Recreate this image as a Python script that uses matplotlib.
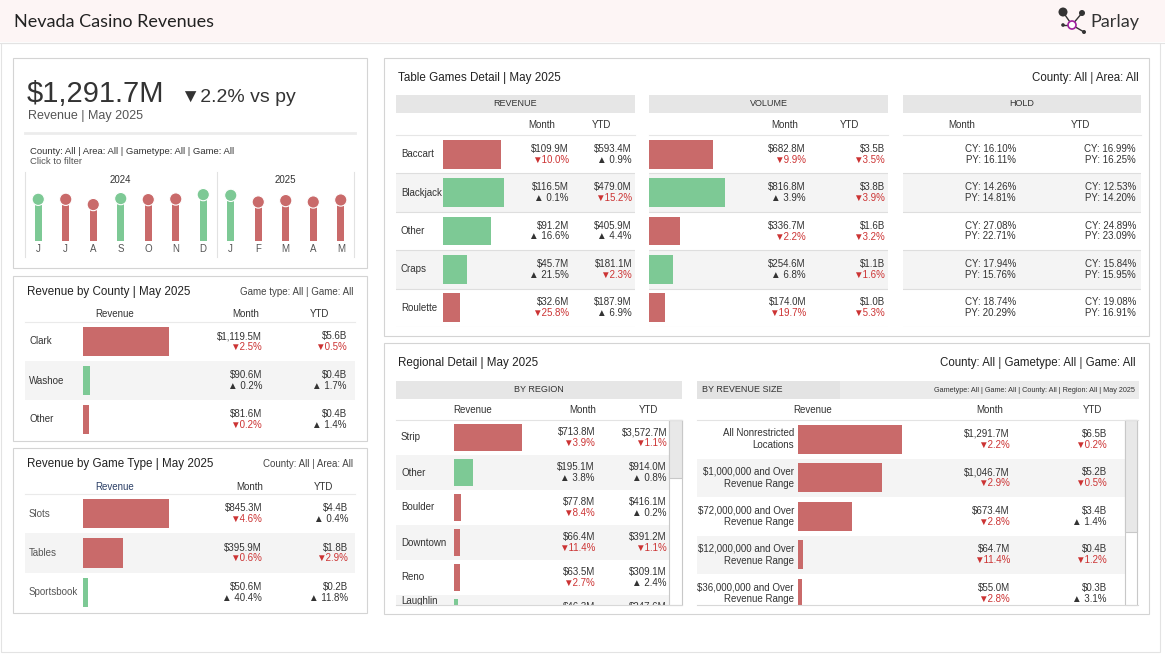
import matplotlib
matplotlib.use('Agg')
import matplotlib.pyplot as plt
import matplotlib.transforms as mtransforms
from matplotlib.patches import Rectangle, Circle

plt.rcParams['font.family'] = ['Liberation Sans', 'DejaVu Sans']
plt.rcParams['text.parse_math'] = False

RED = '#c96a6a'
GREEN = '#7dc995'
NEG = '#cc3333'
INK = '#333333'
GREY_TXT = '#555555'
STRIPE = '#f4f4f4'
RULE = '#dedede'

# ---- data ----
trend_months = ['J', 'J', 'A', 'S', 'O', 'N', 'D', 'J', 'F', 'M', 'A', 'M']
trend_revenue = [1314, 1314, 1148, 1336, 1304, 1323, 1461, 1439, 1229, 1273, 1229, 1291.7]
trend_up = [True, False, False, True, False, False, True, True, False, False, False, False]
trend_years = ['2024', '2025']

county_names = ['Clark', 'Washoe', 'Other']
county_month = [1119.5, 90.6, 81.6]
county_month_chg = [-2.5, 0.2, -0.2]
county_ytd = [5.6, 0.4, 0.4]
county_ytd_chg = [-0.5, 1.7, 1.4]

gametype_names = ['Slots', 'Tables', 'Sportsbook']
gametype_month = [845.3, 395.9, 50.6]
gametype_month_chg = [-4.6, -0.6, 40.4]
gametype_ytd = [4.4, 1.8, 0.2]
gametype_ytd_chg = [0.4, -2.9, 11.8]

games = ['Baccart', 'Blackjack', 'Other', 'Craps', 'Roulette']
game_rev_month = [109.9, 116.5, 91.2, 45.7, 32.6]
game_rev_month_chg = [-10.0, 0.1, 16.6, 21.5, -25.8]
game_rev_ytd = [593.4, 479.0, 405.9, 181.1, 187.9]
game_rev_ytd_chg = [0.9, -15.2, 4.4, -2.3, 6.9]
game_vol_month = [682.8, 816.8, 336.7, 254.6, 174.0]
game_vol_month_chg = [-9.9, 3.9, -2.2, 6.8, -19.7]
game_vol_ytd = [3.5, 3.8, 1.6, 1.1, 1.0]
game_vol_ytd_chg = [-3.5, -3.9, -3.2, -1.6, -5.3]
hold_month_cy = [16.10, 14.26, 27.08, 17.94, 18.74]
hold_month_py = [16.11, 14.81, 22.71, 15.76, 20.29]
hold_ytd_cy = [16.99, 12.53, 24.89, 15.84, 19.08]
hold_ytd_py = [16.25, 14.20, 23.09, 15.95, 16.91]

regions = ['Strip', 'Other', 'Boulder', 'Downtown', 'Reno', 'Laughlin']
region_month = [713.8, 195.1, 77.8, 66.4, 63.5, 46.3]
region_month_chg = [-3.9, 3.8, -8.4, -11.4, -2.7, 1.5]
region_ytd = [3572.7, 914.0, 416.1, 391.2, 309.1, 247.6]
region_ytd_chg = [-1.1, 0.8, 0.2, -1.1, 2.4, 1.0]

size_names = ['All Nonrestricted\nLocations',
              '$1,000,000 and Over\nRevenue Range',
              '$72,000,000 and Over\nRevenue Range',
              '$12,000,000 and Over\nRevenue Range',
              '$36,000,000 and Over\nRevenue Range']
size_month = [1291.7, 1046.7, 673.4, 64.7, 55.0]
size_month_chg = [-2.2, -2.9, -2.8, -11.4, -2.8]
size_ytd = [6.5, 5.2, 3.4, 0.4, 0.3]
size_ytd_chg = [-0.2, -0.5, 1.4, -1.2, 3.1]

# ---- canvas in pixel units ----
W, H = 1165, 656
fig = plt.figure(figsize=(W / 100, H / 100), dpi=100)
fig.patch.set_facecolor('white')


def px_axes(x0, y0, x1, y1, zorder=1):
    ax = fig.add_axes([x0 / W, 1 - y1 / H, (x1 - x0) / W, (y1 - y0) / H], zorder=zorder)
    ax.axis('off')
    return ax


canvas = px_axes(0, 0, W, H, zorder=0)
canvas.set_xlim(0, W)
canvas.set_ylim(H, 0)
top = px_axes(0, 0, W, H, zorder=5)
top.set_xlim(0, W)
top.set_ylim(H, 0)


def money_m(v):
    return f'${v:,.1f}M'


def money_b(v):
    return f'${v:.1f}B'


def chg_text(v):
    if v < 0:
        return f'\u25bc{abs(v):.1f}%', NEG
    return f'\u25b2 {v:.1f}%', INK


def txt(x, y, s, size=7, ha='left', color=INK, **kw):
    canvas.text(x, y, s, fontsize=size, ha=ha, va='center', color=color, **kw)


def body(x0, x1, y0, y1, row_h, n, lines=False):
    ax = px_axes(x0, y0, x1, y1, zorder=1)
    ax.set_xlim(x0, x1)
    ax.set_ylim(-0.5 + (y1 - y0) / row_h, -0.5)
    for i in range(n):
        if i % 2 == 1:
            ax.axhspan(i - 0.5, i + 0.5, color=STRIPE, lw=0)
        if lines:
            ax.axhline(i + 0.5, color=RULE, lw=0.8)
    ax.row_h = row_h
    ax.vis = (y1 - y0) / row_h - 0.5
    return ax


def bars(x0, y0, y1, row_h, values, colors, max_px):
    ax = px_axes(x0, y0, x0 + max_px, y1, zorder=2)
    ax.barh(range(len(values)), values, height=0.75, color=colors, lw=0)
    ax.set_xlim(0, max(values))
    ax.set_ylim(-0.5 + (y1 - y0) / row_h, -0.5)
    return ax


def labels(ax, x, names, ha='left', color=INK):
    for i, s in enumerate(names):
        y = min(i, ax.vis - 4 / ax.row_h)
        ax.text(x, y, s, fontsize=7, ha=ha, va='center', color=color,
                multialignment='right', clip_on=True)


def pairs(ax, x, tops, chgs):
    d = 5.4 / ax.row_h
    for i, (t, c) in enumerate(zip(tops, chgs)):
        ax.text(x, i - d, t, fontsize=7, ha='right', va='center', color=INK, clip_on=True)
        s, col = chg_text(c)
        ax.text(x, i + d, s, fontsize=7, ha='right', va='center', color=col, clip_on=True)


def hold_pairs(ax, x, cy, py):
    d = 5.4 / ax.row_h
    for i, (a, b) in enumerate(zip(cy, py)):
        ax.text(x, i - d, f'CY: {a:.2f}%', fontsize=7, ha='right', va='center', color=INK)
        ax.text(x, i + d, f'PY: {b:.2f}%', fontsize=7, ha='right', va='center', color=INK)


def sign_colors(chgs):
    return [GREEN if c > 0 else RED for c in chgs]


def band(x0, x1, y0, y1, color='#e6e6e6'):
    canvas.add_patch(Rectangle((x0, y0), x1 - x0, y1 - y0, fc=color, ec='none'))


def hline(x0, x1, y, color=RULE, lw=0.8):
    canvas.plot([x0, x1], [y, y], color=color, lw=lw)


# ---- header ----
canvas.add_patch(Rectangle((0, 0), W, 42, fc='#fdf5f5', ec='none'))
hline(0, W, 42.5, color='#e3e3e3')
canvas.add_patch(Rectangle((0.5, 43), 1159.5, 609, fc='none', ec='#e3e3e3', lw=0.8))
canvas.text(14, 22, 'Nevada Casino Revenues', fontsize=13, family=['Lato', 'DejaVu Sans'],
            va='center', color='#222222')
# logo
for (x, y) in [(1063, 12), (1082, 13), (1063, 25), (1084, 32)]:
    canvas.plot([1072, x], [25, y], color='#333333', lw=1)
for (x, y, r) in [(1063, 12, 4.5), (1082, 13, 3), (1063, 25, 1.8), (1084, 32, 2)]:
    canvas.add_patch(Circle((x, y), r, fc='#333333', ec='none'))
canvas.add_patch(Circle((1072, 25), 4, fc='white', ec='#a0209e', lw=1.2, zorder=3))
canvas.text(1090, 22, 'Parlay', fontsize=13, family=['Lato', 'DejaVu Sans'],
            va='center', color='#333333')

# ---- panels ----
for (x, y, w, h) in [(13, 58, 354, 210), (13, 276, 354, 165), (13, 448, 354, 165),
                     (384, 58, 765, 278), (384, 343, 765, 271)]:
    canvas.add_patch(Rectangle((x, y), w, h, fc='white', ec='#d4d4d4', lw=0.8))

# ---- KPI panel ----
kpi_chg, _ = chg_text(size_month_chg[0])
canvas.text(27, 102, money_m(trend_revenue[-1]), fontsize=21, va='baseline', color=INK)
canvas.text(181, 102, kpi_chg + ' vs py', fontsize=14, va='baseline', color=INK)
canvas.text(28, 119, 'Revenue | May 2025', fontsize=9, va='baseline', color=GREY_TXT)
hline(25, 355, 133, color='#ececec', lw=2)
txt(30, 151, 'County: All | Area: All | Gametype: All | Game: All', size=6.8)
txt(30, 162, 'Click to filter', size=6.8, color=GREY_TXT)
for x in [25, 217, 354]:
    canvas.plot([x, x], [172, 257], color='#e2e2e2', lw=0.8)

lol = px_axes(24.5, 241 - 54, 354.5, 241, zorder=2)
xs = list(range(len(trend_revenue)))
cols = [GREEN if u else RED for u in trend_up]
lol.bar(xs, trend_revenue, width=0.25, color=cols, lw=0)
lol.scatter(xs, trend_revenue, s=78, c=cols, edgecolors='white', linewidths=0.8,
            zorder=3, clip_on=False)
lol.set_xlim(-0.5, len(xs) - 0.5)
lol.set_ylim(0, 54 * 31.5)
mix = mtransforms.blended_transform_factory(lol.transData, canvas.transData)
for i, m in enumerate(trend_months):
    lol.text(i, 249, m, transform=mix, fontsize=7, ha='center', va='center', color=GREY_TXT)
lol.text(3, 180, trend_years[0], transform=mix, fontsize=7, ha='center', va='center', color=INK)
lol.text(9, 180, trend_years[1], transform=mix, fontsize=7, ha='center', va='center', color=INK)

# ---- Revenue by County ----
txt(27, 292, 'Revenue by County | May 2025', size=8.4, color='#222222')
txt(353, 292, 'Game type: All | Game: All', size=7, ha='right', color='#444444')
txt(115, 314, 'Revenue', ha='center')
txt(246, 314, 'Month', ha='center')
txt(320, 314, 'YTD', ha='center')
hline(25, 355, 322, color='#eaeaea')
cb = body(25, 355, 322, 439, 39, len(county_names))
labels(cb, 29, county_names)
bars(83, 322, 439, 39, county_month, sign_colors(county_month_chg), 86)
pairs(cb, 262, [money_m(v) for v in county_month], county_month_chg)
pairs(cb, 347, [money_b(v) for v in county_ytd], county_ytd_chg)

# ---- Revenue by Game Type ----
txt(27, 464, 'Revenue by Game Type | May 2025', size=8.4, color='#222222')
txt(353, 464, 'County: All | Area: All', size=7, ha='right', color='#444444')
txt(115, 487, 'Revenue', ha='center', color='#2b3f66')
txt(250, 487, 'Month', ha='center')
txt(324, 487, 'YTD', ha='center')
hline(25, 355, 494, color='#eaeaea')
gb = body(25, 355, 494, 612, 39.3, len(gametype_names))
labels(gb, 29, gametype_names, color=GREY_TXT)
bars(83, 494, 612, 39.3, gametype_month, sign_colors(gametype_month_chg), 86)
pairs(gb, 262, [money_m(v) for v in gametype_month], gametype_month_chg)
pairs(gb, 348, [money_b(v) for v in gametype_ytd], gametype_ytd_chg)

# ---- Table Games Detail ----
txt(398, 78, 'Table Games Detail | May 2025', size=8.4, color='#222222')
txt(1139, 78, 'County: All | Area: All', size=8.3, ha='right', color='#222222')
for (x0, x1, name) in [(396, 635, 'REVENUE'), (649, 888, 'VOLUME'), (903, 1141, 'HOLD')]:
    band(x0, x1, 95, 113)
    txt((x0 + x1) / 2, 104, name, size=6.5, ha='center')
    hline(x0, x1, 135, color='#e6e6e6')
for (x, s) in [(542, 'Month'), (602, 'YTD'), (785, 'Month'), (850, 'YTD'),
               (962, 'Month'), (1081, 'YTD')]:
    txt(x, 125, s, ha='center')
rh = 38.4
rb = body(396, 635, 135, 327, rh, len(games), lines=True)
labels(rb, 401, games)
bars(443, 135, 327, rh, game_rev_month, sign_colors(game_rev_month_chg), 61)
pairs(rb, 569, [money_m(v) for v in game_rev_month], game_rev_month_chg)
pairs(rb, 632, [money_m(v) for v in game_rev_ytd], game_rev_ytd_chg)
vb = body(649, 888, 135, 327, rh, len(games), lines=True)
bars(649, 135, 327, rh, game_vol_month, sign_colors(game_vol_month_chg), 76)
pairs(vb, 806, [money_m(v) for v in game_vol_month], game_vol_month_chg)
pairs(vb, 885, [money_b(v) for v in game_vol_ytd], game_vol_ytd_chg)
hb = body(903, 1141, 135, 327, rh, len(games), lines=True)
hold_pairs(hb, 1016, hold_month_cy, hold_month_py)
hold_pairs(hb, 1136, hold_ytd_cy, hold_ytd_py)

# ---- Regional Detail ----
txt(398, 363, 'Regional Detail | May 2025', size=8.4, color='#222222')
txt(1136, 363, 'County: All | Gametype: All | Game: All', size=8.3, ha='right', color='#222222')
band(396, 682, 381, 399)
txt(539, 390, 'BY REGION', size=6.5, ha='center')
band(697, 1139, 381, 399, color='#ebebeb')
band(697, 840, 381, 399, color='#e3e3e3')
txt(702, 390, 'BY REVENUE SIZE', size=6.5)
txt(1135, 390, 'Gametype: All | Game: All | County: All | Region: All | May 2025',
    size=5.2, ha='right')
for (x, s) in [(473, 'Revenue'), (583, 'Month'), (649, 'YTD'),
               (813, 'Revenue'), (990, 'Month'), (1093, 'YTD')]:
    txt(x, 410, s, ha='center')

gb2 = body(396, 669, 420, 605, 35, len(regions))
labels(gb2, 401, regions)
bars(454, 420, 605, 35, region_month, sign_colors(region_month_chg), 68)
pairs(gb2, 595, [money_m(v) for v in region_month], region_month_chg)
pairs(gb2, 667, [money_m(v) for v in region_ytd], region_ytd_chg)

sb = body(697, 1125, 420, 605, 38.5, len(size_names))
labels(sb, 794, size_names, ha='right')
bars(798, 420, 605, 38.5, size_month, sign_colors(size_month_chg), 104)
pairs(sb, 1010, [money_m(v) for v in size_month], size_month_chg)
pairs(sb, 1107, [money_b(v) for v in size_ytd], size_ytd_chg)

for (x0, x1) in [(396, 682), (697, 1138)]:
    top.plot([x0, x1], [420, 420], color='#e3e3e3', lw=0.8)
    top.plot([x0, x1], [605, 605], color='#d8d8d8', lw=0.8)
# scrollbars
for (x, w, thumb) in [(669, 13, 58), (1125, 12, 112)]:
    top.add_patch(Rectangle((x, 420), w, 185, fc='white', ec='#c8c8c8', lw=0.8))
    top.add_patch(Rectangle((x, 420), w, thumb, fc='#e8e8e8', ec='#c8c8c8', lw=0.8))

fig.savefig('out.png', dpi=100)
